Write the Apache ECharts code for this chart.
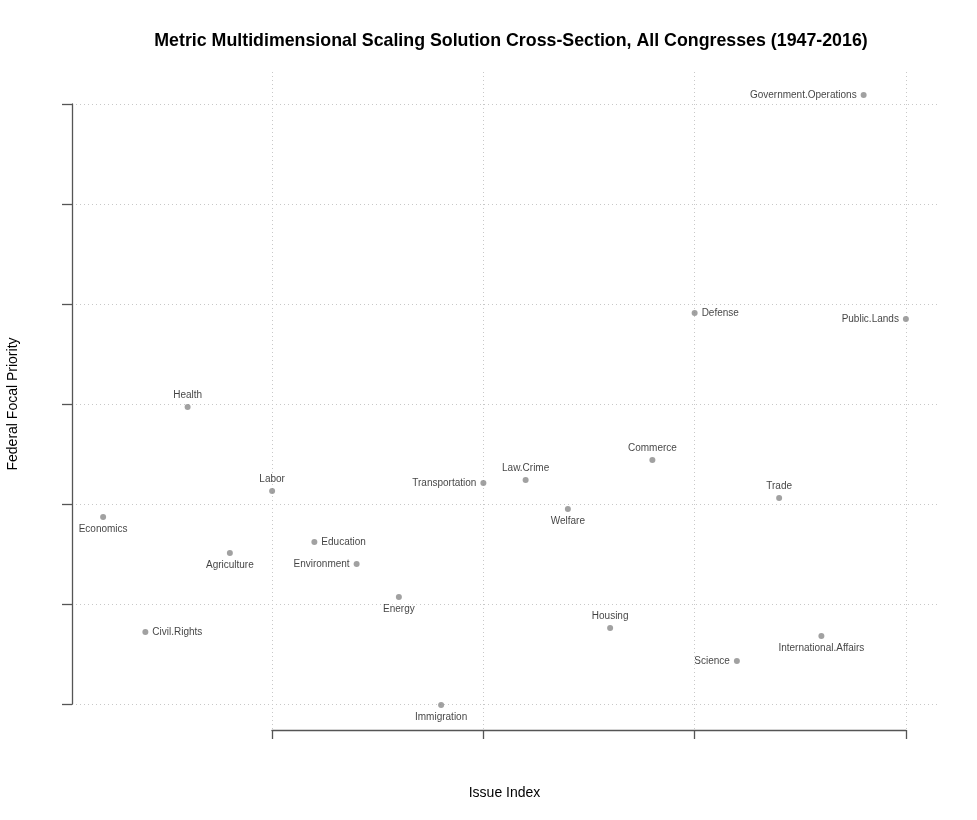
<!DOCTYPE html>
<html>
<head>
<meta charset="utf-8">
<script src="https://cdn.jsdelivr.net/npm/echarts@6/dist/echarts.min.js"></script>
<style>
	html, body { margin: 0; padding: 0; background: #fff; }
	#chart { width: 977px; height: 820px; }
</style>
</head>
<body>
<div id="chart"></div>
<script>
// issues in index order (1..20)
const issues = ['Economics', 'Civil.Rights', 'Health', 'Agriculture', 'Labor',
	'Education', 'Environment', 'Energy', 'Immigration', 'Transportation',
	'Law.Crime', 'Welfare', 'Housing', 'Commerce', 'Defense',
	'Science', 'Trade', 'International.Affairs', 'Government.Operations', 'Public.Lands'];
const issueIndex = [1, 2, 3, 4, 5, 6, 7, 8, 9, 10, 11, 12, 13, 14, 15, 16, 17, 18, 19, 20];
// focal priority (MDS dimension)
const priority = [1.87, 0.72, 2.97, 1.51, 2.13, 1.62, 1.40, 1.07, -0.01, 2.21,
	2.24, 1.95, 0.76, 2.44, 3.91, 0.43, 2.06, 0.68, 6.09, 3.85];
// where each label sits relative to its point
const labelPos = ['bottom', 'right', 'top', 'bottom', 'top', 'right', 'left', 'bottom', 'bottom', 'left',
	'top', 'bottom', 'top', 'top', 'right', 'left', 'top', 'bottom', 'left', 'left'];
const xTicks = [5, 10, 15, 20];
const yTicks = [0, 1, 2, 3, 4, 5, 6];

const font = 'Liberation Sans, Arial, Helvetica, sans-serif';
const axisColor = '#555';
const gridStyle = { color: '#c8c8c8', type: [1, 3], width: 1 };

const chart = echarts.init(document.getElementById('chart'));

const points = issues.map((name, i) => ({
	name: name,
	value: [issueIndex[i], priority[i]],
	label: { position: labelPos[i] }
}));

const option = {
	animation: false,
	backgroundColor: '#fff',
	title: {
		text: 'Metric Multidimensional Scaling Solution Cross-Section, All Congresses (1947-2016)',
		left: 506,
		top: 27,
		textAlign: 'center',
		textStyle: { fontFamily: font, fontSize: 17.8, fontWeight: 'bold', color: '#000' }
	},
	grid: [
		// data area
		{ left: 71, right: 39, top: 72, bottom: 92, outerBoundsMode: 'none' },
		// y axis frame + horizontal grid
		{ left: 72, right: 39, top: 104, bottom: 116, outerBoundsMode: 'none' },
		// x axis frame + vertical grid
		{ left: 272, right: 71, top: 72, bottom: 90, outerBoundsMode: 'none' }
	],
	xAxis: [
		{
			gridIndex: 0, type: 'value', min: 0.24, max: 20.76,
			name: 'Issue Index', nameLocation: 'middle', nameGap: 58,
			nameTextStyle: { fontFamily: font, fontSize: 14, color: '#000' },
			axisLine: { show: false }, axisTick: { show: false },
			axisLabel: { show: false }, splitLine: { show: false }
		},
		{
			gridIndex: 1, type: 'value', min: 0, max: 1, show: false
		},
		{
			gridIndex: 2, type: 'value', min: xTicks[0], max: xTicks[xTicks.length - 1], interval: 5,
			axisLine: { show: true, lineStyle: { color: axisColor, width: 1.3 } },
			axisTick: { show: true, length: 9, lineStyle: { color: axisColor, width: 1.3 } },
			axisLabel: { show: false },
			splitLine: { show: true, lineStyle: gridStyle }
		}
	],
	yAxis: [
		{
			gridIndex: 0, type: 'value', min: -0.24, max: 6.32,
			axisLine: { show: false }, axisTick: { show: false },
			axisLabel: { show: false }, splitLine: { show: false }
		},
		{
			gridIndex: 1, type: 'value', min: yTicks[0], max: yTicks[yTicks.length - 1], interval: 1,
			name: 'Federal Focal Priority', nameLocation: 'middle', nameGap: 52,
			nameTextStyle: { fontFamily: font, fontSize: 14, color: '#000' },
			axisLine: { show: true, lineStyle: { color: axisColor, width: 1.3 } },
			axisTick: { show: true, length: 10, lineStyle: { color: axisColor, width: 1.3 } },
			axisLabel: { show: false },
			splitLine: { show: true, lineStyle: gridStyle }
		},
		{
			gridIndex: 2, type: 'value', min: 0, max: 1, show: false
		}
	],
	series: [{
		type: 'scatter',
		xAxisIndex: 0,
		yAxisIndex: 0,
		symbol: 'circle',
		symbolSize: 6,
		itemStyle: { color: '#8a8a8a' },
		label: {
			show: true,
			formatter: '{b}',
			distance: 4,
			fontFamily: font,
			fontSize: 10,
			color: '#111'
		},
		data: points,
		z: 5
	}]
};

chart.setOption(option);
</script>
</body>
</html>
